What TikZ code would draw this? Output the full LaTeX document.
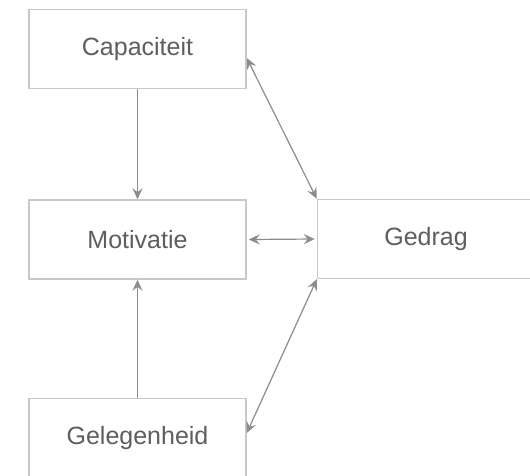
\documentclass[tikz,border=0pt]{standalone}
\usepackage{fontspec}
\setmainfont{Liberation Sans}
\usetikzlibrary{arrows.meta}
\definecolor{boxline}{HTML}{C8C8C8}
\definecolor{arrowline}{HTML}{8C8C8C}
\definecolor{labeltext}{HTML}{5E5E5E}
\tikzset{
  factor/.style={draw=boxline,line width=1.5pt,minimum width=217pt,minimum height=79pt,
    inner sep=0pt,text=labeltext,font=\fontsize{25}{30}\selectfont},
  link/.style={draw=arrowline,line width=1.2pt,-{Stealth[length=11pt,width=10pt,inset=4pt]}},
  dlink/.style={link,{Stealth[length=11pt,width=10pt,inset=4pt]}-{Stealth[length=11pt,width=10pt,inset=4pt]}}
}
\begin{document}
\begin{tikzpicture}[x=1pt,y=-1pt]
\useasboundingbox[fill=white] (0,0) rectangle (530,475);

\node[factor] (cap) at (137.5,49) {Capaciteit};
\node[factor] (mot) at (137.5,239.5) {Motivatie};
\node[factor] (ged) at (426,239) {Gedrag};
\node[factor] (gel) at (137.5,438) {Gelegenheid};

\draw[link] (cap.south) -- (mot.north);
\draw[link] (gel.north) -- (mot.south);

\draw[dlink] ([xshift=2pt]mot.east) -- ([xshift=-2pt]ged.west);
\draw[dlink] ([yshift=-9pt]cap.east) -- (ged.north west);
\draw[dlink] ([yshift=5pt]gel.east) -- (ged.south west);
\end{tikzpicture}
\end{document}
